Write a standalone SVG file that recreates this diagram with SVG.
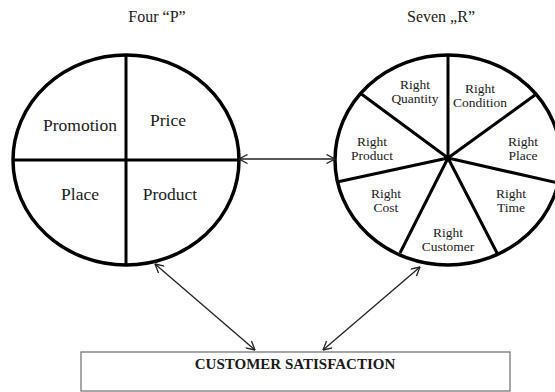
<svg xmlns="http://www.w3.org/2000/svg" width="555" height="392" viewBox="0 0 555 392">
  <style>
    text { font-family: "Liberation Serif", "Times New Roman", serif; fill: #1a1a1a; }
    .title { font-size: 16px; text-anchor: middle; }
    .p { font-size: 17.5px; text-anchor: middle; }
    .r { font-size: 13.5px; text-anchor: middle; }
    .rim { fill: #ffffff; stroke: #000000; stroke-width: 3.5; }
    .div { stroke: #000000; stroke-width: 3; fill: none; }
    .link { stroke: #222222; stroke-width: 1.3; fill: none; marker-start: url(#open); marker-end: url(#open); }
  </style>
  <defs>
    <marker id="open" viewBox="0 0 10 10" refX="9.5" refY="5" markerWidth="10" markerHeight="10" markerUnits="userSpaceOnUse" orient="auto-start-reverse">
      <path d="M1,0.5 L9.5,5 L1,9.5" fill="none" stroke="#222222" stroke-width="1.3"/>
    </marker>
  </defs>

  <rect width="555" height="392" fill="#ffffff"/>

  <text class="title" x="157" y="22">Four “P”</text>
  <text class="title" x="441" y="22">Seven „R”</text>

  <!-- Four P wheel -->
  <g id="four-p">
    <ellipse class="rim" cx="126" cy="160" rx="113" ry="105"/>
    <line class="div" x1="13" y1="160" x2="239" y2="160"/>
    <line class="div" x1="126" y1="55" x2="126" y2="265"/>
    <text class="p" x="80" y="131">Promotion</text>
    <text class="p" x="168" y="126">Price</text>
    <text class="p" x="80" y="200">Place</text>
    <text class="p" x="170" y="200">Product</text>
  </g>

  <!-- Seven R wheel -->
  <g id="seven-r">
    <ellipse class="rim" cx="448" cy="160" rx="113" ry="105"/>
    <path class="div" d="M448,158 L448,55 M448,158 L535,95 M448,158 L558,183 M448,158 L497,253 M448,158 L400,253 M448,158 L337,182 M448,158 L360,93"/>
    <text class="r" x="415" y="89">Right</text>
    <text class="r" x="415" y="103">Quantity</text>
    <text class="r" x="480" y="93">Right</text>
    <text class="r" x="480" y="107">Condition</text>
    <text class="r" x="523" y="146">Right</text>
    <text class="r" x="523" y="160">Place</text>
    <text class="r" x="372" y="146">Right</text>
    <text class="r" x="372" y="160">Product</text>
    <text class="r" x="386" y="198">Right</text>
    <text class="r" x="386" y="212">Cost</text>
    <text class="r" x="511" y="198">Right</text>
    <text class="r" x="511" y="212">Time</text>
    <text class="r" x="448" y="237">Right</text>
    <text class="r" x="448" y="251">Customer</text>
  </g>

  <!-- Result box -->
  <g id="customer-satisfaction">
    <rect x="81" y="352" width="429" height="39" fill="#ffffff" stroke="#777777" stroke-width="1.3"/>
    <text x="295" y="369" font-size="15" font-weight="bold" text-anchor="middle">CUSTOMER SATISFACTION</text>
  </g>

  <!-- Connectors -->
  <g id="connectors">
    <line class="link" x1="239" y1="159" x2="335" y2="159" stroke="#666666"/>
    <line class="link" x1="155" y1="264" x2="255" y2="350"/>
    <line class="link" x1="420" y1="267" x2="323" y2="350"/>
  </g>
</svg>
